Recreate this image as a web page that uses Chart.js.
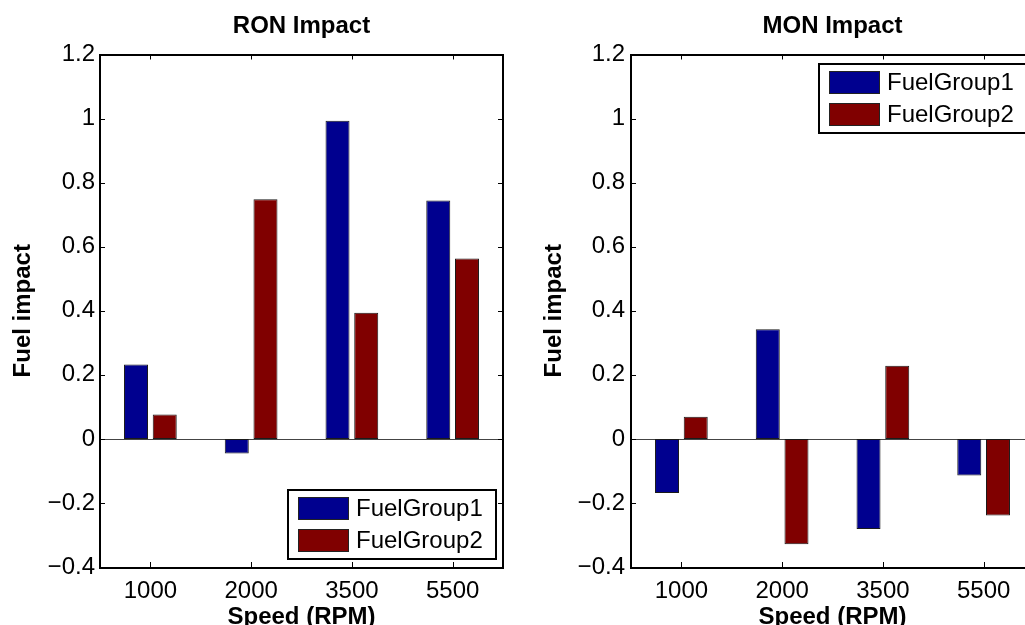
<!DOCTYPE html>
<html>
<head>
<meta charset="utf-8">
<title>RON / MON Impact</title>
<script src="https://cdn.jsdelivr.net/npm/chart.js@4.4.1/dist/chart.umd.min.js"></script>
<style>
    html, body { margin: 0; padding: 0; background: #fff; overflow: hidden; }
    body { width: 1025px; height: 625px; position: relative; }
    canvas { position: absolute; top: 0; }
    #ronChart { left: 0; }
    #monChart { left: 520px; }
</style>
</head>
<body>
<canvas id="ronChart" width="520" height="650"></canvas>
<canvas id="monChart" width="540" height="650"></canvas>
<script>
// data
const speeds = ['1000', '2000', '3500', '5500'];
const seriesNames = ['FuelGroup1', 'FuelGroup2'];
const ronGroup1 = [0.232, -0.046, 0.993, 0.744];
const ronGroup2 = [0.076, 0.748, 0.394, 0.563];
const monGroup1 = [-0.169, 0.342, -0.281, -0.114];
const monGroup2 = [0.069, -0.329, 0.228, -0.239];
const yTickLabels = ['\u22120.4', '\u22120.2', '0', '0.2', '0.4', '0.6', '0.8', '1', '1.2'];

const FONT = "'Liberation Sans', Arial, Helvetica, sans-serif";
const BLUE = '#00008f';
const RED = '#800000';

Chart.defaults.font.family = FONT;
Chart.defaults.color = '#000';

// MATLAB style axes: box, inward ticks, zero baseline, legend inside the axes
const matlabAxes = {
    id: 'matlabAxes',
    beforeDatasetsDraw(chart) {
        const { ctx, chartArea: a, scales: { y } } = chart;
        const y0 = Math.round(y.getPixelForValue(0)) + 0.5;
        ctx.save();
        ctx.strokeStyle = '#444';
        ctx.lineWidth = 1;
        ctx.beginPath();
        ctx.moveTo(a.left, y0);
        ctx.lineTo(a.right, y0);
        ctx.stroke();
        ctx.restore();
    },
    afterDatasetsDraw(chart, args, opts) {
        const { ctx, chartArea: a, scales: { x, y } } = chart;
        ctx.save();
        ctx.strokeStyle = '#000';
        ctx.lineWidth = 2;
        ctx.strokeRect(Math.round(a.left), Math.round(a.top),
            Math.round(a.right - a.left), Math.round(a.bottom - a.top));

        // inward tick marks
        const len = 5;
        ctx.lineWidth = 1;
        ctx.beginPath();
        y.ticks.forEach(t => {
            const py = Math.round(y.getPixelForValue(t.value)) + 0.5;
            ctx.moveTo(a.left, py); ctx.lineTo(a.left + len, py);
            ctx.moveTo(a.right, py); ctx.lineTo(a.right - len, py);
        });
        x.ticks.forEach((t, i) => {
            const px = Math.round(x.getPixelForTick(i)) + 0.5;
            ctx.moveTo(px, a.bottom); ctx.lineTo(px, a.bottom - len);
            ctx.moveTo(px, a.top); ctx.lineTo(px, a.top + len);
        });
        ctx.stroke();

        // legend box
        const w = 208, h = 69;
        const bx = Math.round(a.right - 7 - w);
        const by = Math.round(opts.corner === 'top' ? a.top + 9 : a.bottom - 8 - h);
        ctx.fillStyle = '#fff';
        ctx.fillRect(bx, by, w, h);
        ctx.lineWidth = 2;
        ctx.strokeRect(bx, by, w, h);
        ctx.font = '24px ' + FONT;
        ctx.textBaseline = 'middle';
        ctx.textAlign = 'left';
        chart.data.datasets.forEach((ds, i) => {
            const sy = by + 7 + i * 32;
            ctx.fillStyle = ds.backgroundColor;
            ctx.fillRect(bx + 10, sy, 51, 23);
            ctx.lineWidth = 1;
            ctx.strokeStyle = '#222';
            ctx.strokeRect(bx + 10.5, sy + 0.5, 50, 22);
            ctx.fillStyle = '#000';
            ctx.fillText(ds.label, bx + 68, sy + 12);
        });
        ctx.restore();
    }
};

function makeChart(id, titleText, g1, g2, cfg) {
    const ctx = document.getElementById(id).getContext('2d');
    return new Chart(ctx, {
        type: 'bar',
        data: {
            labels: speeds,
            datasets: [
                { label: seriesNames[0], data: g1, backgroundColor: BLUE },
                { label: seriesNames[1], data: g2, backgroundColor: RED }
            ]
        },
        options: {
            responsive: false,
            animation: false,
            events: [],
            layout: { padding: { left: 0, top: 0, right: cfg.padRight, bottom: 0 } },
            datasets: {
                bar: {
                    barPercentage: 0.836,
                    categoryPercentage: 0.57,
                    borderWidth: 1,
                    borderColor: '#1a1a1a',
                    borderSkipped: false
                }
            },
            scales: {
                x: {
                    type: 'category',
                    offset: true,
                    grid: { display: false, drawTicks: false },
                    border: { display: false },
                    ticks: {
                        font: { size: 24 },
                        color: '#000',
                        padding: 10,
                        maxRotation: 0,
                        autoSkip: false
                    },
                    title: {
                        display: true,
                        text: 'Speed (RPM)',
                        font: { size: 24, weight: 'bold' },
                        color: '#000',
                        padding: { top: 0, bottom: 18 }
                    },
                    afterFit: scale => { scale.height = 83; }
                },
                y: {
                    type: 'linear',
                    min: -0.4,
                    max: 1.2,
                    grid: { display: false, drawTicks: false },
                    border: { display: false },
                    ticks: {
                        stepSize: 0.2,
                        font: { size: 24 },
                        color: '#000',
                        padding: cfg.tickPad,
                        callback: (value, index) => yTickLabels[index]
                    },
                    title: {
                        display: true,
                        text: 'Fuel impact',
                        font: { size: 24, weight: 'bold' },
                        color: '#000',
                        padding: { top: cfg.titlePad, bottom: 0 }
                    },
                    afterFit: scale => { scale.width = cfg.yWidth; }
                }
            },
            plugins: {
                legend: { display: false },
                tooltip: { enabled: false },
                title: {
                    display: true,
                    text: titleText,
                    fullSize: false,
                    font: { size: 24, weight: 'bold' },
                    color: '#000',
                    padding: { top: 12, bottom: 13.7 }
                },
                matlabAxes: { corner: cfg.legendCorner }
            }
        },
        plugins: [matlabAxes]
    });
}

makeChart('ronChart', 'RON Impact', ronGroup1, ronGroup2,
    { padRight: 17, yWidth: 100, tickPad: 5, titlePad: 8.6, legendCorner: 'bottom' });
makeChart('monChart', 'MON Impact', monGroup1, monGroup2,
    { padRight: 26, yWidth: 111, tickPad: 6, titlePad: 20, legendCorner: 'top' });
</script>
</body>
</html>
